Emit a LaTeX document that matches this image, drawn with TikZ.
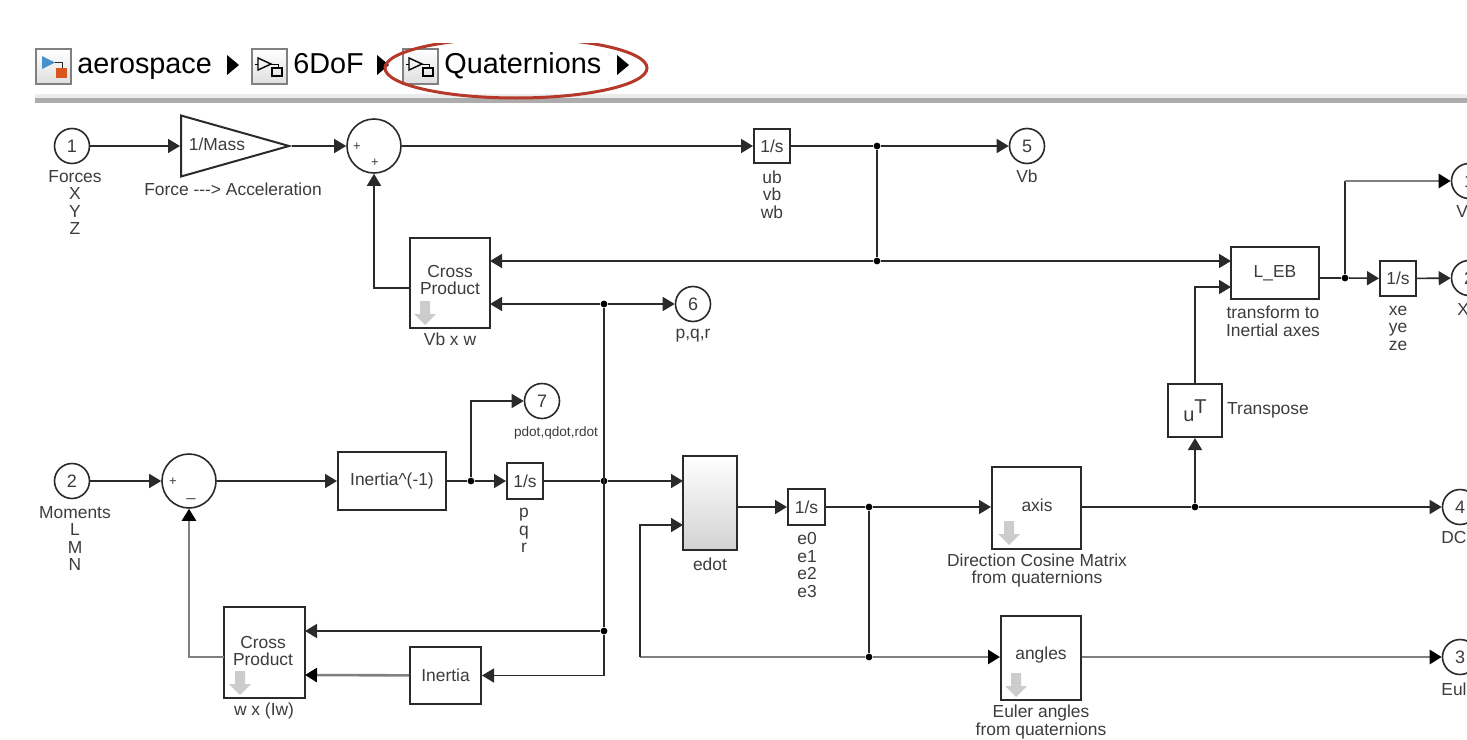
\documentclass[tikz,border=0pt]{standalone}
\usepackage{fontspec}
\setmainfont{Liberation Sans}
\usepackage{tikz}
\usetikzlibrary{arrows.meta,shapes.geometric,calc}
\definecolor{simdark}{HTML}{2A2A2A}
\definecolor{simtext}{HTML}{3C3C3C}
\definecolor{simred}{HTML}{B5392A}
\definecolor{simblue}{HTML}{4A90C8}
\definecolor{simorange}{HTML}{D9571E}
\tikzset{
  blk/.style={draw=simdark,line width=1pt,fill=white,inner sep=0pt,align=center,text=simtext,font=\fontsize{8.7}{8.2}\selectfont},
  port/.style={circle,draw=simdark,line width=.8pt,fill=white,inner sep=0pt,minimum size=17.5pt,text=simtext,font=\fontsize{9}{9}\selectfont},
  sumblk/.style={circle,draw=simdark,line width=.8pt,fill=white,inner sep=0pt,minimum size=27pt},
  junc/.style={circle,fill=black,inner sep=0pt,minimum size=3.4pt},
  lbl/.style={inner sep=0pt,align=center,text=simtext,font=\fontsize{8.7}{8.8}\selectfont},
  sgn/.style={inner sep=0pt,text=simtext,font=\fontsize{6.5}{6.5}\selectfont},
  crumb/.style={inner sep=0pt,anchor=base west,text=black,font=\fontsize{14.4}{14.4}\selectfont},
  btn/.style={draw=gray,line width=.7pt,top color=white,bottom color=gray!25},
  wire/.style={draw=simdark,line width=.8pt},
  ar/.style={wire,-{Triangle[length=6pt,width=7pt]}},
  thk/.style={draw=black!50,line width=1.3pt},
  arthk/.style={thk,-{Triangle[length=6pt,width=7pt,color=black]}},
}
\begin{document}
\begin{tikzpicture}[x=.5pt,y=-.5pt]
  \useasboundingbox (0,0) rectangle (1467,739);
  \clip (0,0) rectangle (1467,739);
  % breadcrumb bar
  \fill[gray!15] (35,94) rectangle (1467,98);
  \fill[gray!65] (35,98) rectangle (1467,103);
  \foreach \x in {36,252,403} {\fill[btn] (\x,49) rectangle (\x+35,84);}
  \fill[simblue] (42,56) -- (42,69) -- (55,62.5) -- cycle;
  \draw[simdark,line width=.5pt] (55,62.5) -- (62,62.5) -- (62,68);
  \fill[simorange] (56,68) rectangle (67,78);
  \foreach \x in {252,403} {
    \draw[black,line width=.7pt] (\x+6,58) -- (\x+6,70) -- (\x+19,64) -- cycle;
    \draw[black,line width=.5pt] (\x+3,64) -- (\x+6,64) (\x+19,64) -- (\x+26,64) -- (\x+26,68);
    \draw[black,line width=.7pt] (\x+20,68) rectangle (\x+30,76);
  }
  \foreach \x in {227,377,617} {\fill[black] (\x,55) -- (\x,75) -- (\x+12,65) -- cycle;}
  \node[crumb] (crumbA) at (77,73) {aerospace};
  \node[crumb] (crumbB) at (293,73) {6DoF};
  \node[crumb] (crumbC) at (444,73) {Quaternions};
  \begin{scope}
    \clip (0,43) rectangle (1467,739);
    \draw[simred,line width=1.5pt] (516,68) ellipse [x radius=131,y radius=30];
  \end{scope}
  % blocks
  \node[port] (portA) at (72,146) {1};
  \node[port] (portB) at (72,481) {2};
  \node[port] (portVb) at (1027,146) {5};
  \node[port] (portPqr) at (693,304) {6};
  \node[port] (portDot) at (542,401) {7};
  \node[port] (portV) at (1469,181) {1};
  \node[port] (portX) at (1469,278) {2};
  \node[port] (portDcm) at (1460,507) {4};
  \node[port] (portEul) at (1460,657) {3};
  \node[blk,isosceles triangle,isosceles triangle stretches,shape border rotate=0,minimum width=30.5pt,minimum height=54pt,anchor=lower side] (mass) at (180,146) {};
  \node[sumblk] (sumA) at (374,146) {};
  \node[sumblk] (sumB) at (189,481) {};
  \node[blk,minimum width=18pt,minimum height=17pt] (intA) at (772,146) {1/s};
  \node[blk,minimum width=18pt,minimum height=18pt] (intB) at (525,481) {1/s};
  \node[blk,minimum width=18.5pt,minimum height=18pt] (intC) at (806.5,507) {1/s};
  \node[blk,minimum width=18pt,minimum height=17.5pt] (intD) at (1398,278.5) {1/s};
  \node[blk,minimum width=40pt,minimum height=45pt] (crossA) at (450,283) {};
  \node[blk,minimum width=40.5pt,minimum height=45.5pt] (crossB) at (264.5,652.5) {};
  \node[blk,minimum width=54pt,minimum height=29pt] (invI) at (392,481) {Inertia\textasciicircum(-1)};
  \node[blk,minimum width=35.5pt,minimum height=28.5pt] (inertia) at (445.5,675.5) {Inertia};
  \node[blk,minimum width=27pt,minimum height=47pt,top color=white,bottom color=gray!35] (edot) at (710,503) {};
  \node[blk,minimum width=44.5pt,minimum height=41pt] (axis) at (1036.5,508) {};
  \node[blk,minimum width=40pt,minimum height=42pt] (angles) at (1041,658) {};
  \node[blk,minimum width=44pt,minimum height=26pt] (leb) at (1275,273) {L\_EB};
  \node[blk,minimum width=27pt,minimum height=26.5pt,font=\fontsize{10}{10}\selectfont] (trans) at (1195,410.5) {u\raisebox{4pt}{T}};
  \foreach \x/\y in {425/313,240/683,1009/533,1016/685} {
    \fill[gray!40] (\x-5,\y-12) -- (\x+5,\y-12) -- (\x+5,\y+1) -- (\x+11,\y+1) -- (\x,\y+12) -- (\x-11,\y+1) -- (\x-5,\y+1) -- cycle;
  }
  % signs on the sums
  \node[sgn] (sgnA) at (357,147) {+};
  \node[sgn] (sgnB) at (375,163) {+};
  \node[sgn] (sgnC) at (173,482) {+};
  \node[sgn,font=\fontsize{8}{8}\selectfont] (sgnD) at (191,498) {\_};
  % labels
  \node[lbl] (txtMass) at (217,144) {1/Mass};
  \node[lbl] (txtCrossA) at (450,280) {Cross\\Product};
  \node[lbl] (txtCrossB) at (263,651) {Cross\\Product};
  \node[lbl] (txtAxis) at (1037,505) {axis};
  \node[lbl] (txtAngles) at (1041,655) {angles};
  \node[lbl] (lblForces) at (75,202.5) {Forces\\X\\Y\\Z};
  \node[lbl] (lblMass) at (233,189) {Force -{}-{}-> Acceleration};
  \node[lbl] (lblInt) at (772,194.5) {ub\\vb\\wb};
  \node[lbl] (lblVb) at (1027,176) {Vb};
  \node[lbl] (lblCrossA) at (450,339) {Vb x w};
  \node[lbl] (lblPqr) at (693,336) {p,q,r};
  \node[lbl,font=\fontsize{6.8}{7}\selectfont] (lblDot) at (556,433) {pdot,qdot,rdot};
  \node[lbl] (lblMom) at (75,538.5) {Moments\\L\\M\\N};
  \node[lbl] (lblP) at (524,530.5) {p\\q\\r};
  \node[lbl] (lblCrossB) at (264,711) {w x (Iw)};
  \node[lbl] (lblEdot) at (710,564) {edot};
  \node[lbl] (lblE) at (807,565) {e0\\e1\\e2\\e3};
  \node[lbl] (lblAxis) at (1037,570.5) {Direction Cosine Matrix\\from quaternions};
  \node[lbl] (lblAngles) at (1041,722) {Euler angles\\from quaternions};
  \node[lbl] (lblTrans) at (1268,410) {Transpose};
  \node[lbl] (lblLeb) at (1273,321.5) {transform to\\Inertial axes};
  \node[lbl] (lblXe) at (1398,328) {xe\\ye\\ze};
  \node[lbl,anchor=west] (lblV) at (1456,212) {V};
  \node[lbl,anchor=west] (lblX) at (1457,310) {X};
  \node[lbl,anchor=west] (lblDcm) at (1441,538) {DC};
  \node[lbl,anchor=west] (lblEul) at (1441,689) {Eul};
  % junctions and free ends
  \node[junc] (jA) at (877,146) {};
  \node[junc] (jB) at (877,261) {};
  \node[junc] (jC) at (604,304) {};
  \node[junc] (jD) at (604,481) {};
  \node[junc] (jE) at (604,631) {};
  \node[junc] (jF) at (471,481) {};
  \node[junc] (jG) at (869,507) {};
  \node[junc] (jH) at (869,657) {};
  \node[junc] (jI) at (1195,507) {};
  \node[junc] (jJ) at (1345,278) {};
  \coordinate (crossAin) at (490,261);
  \coordinate (crossAfb) at (490,304);
  \coordinate (crossAout) at (410,288);
  \coordinate (crossBin) at (305,631);
  \coordinate (crossBfb) at (305,675);
  \coordinate (crossBout) at (224,657);
  \coordinate (lebA) at (1231,261);
  \coordinate (lebB) at (1231,287);
  \coordinate (lebOut) at (1319,278);
  \coordinate (edotA) at (683,481);
  \coordinate (edotB) at (683,525);
  \coordinate (edotOut) at (737,507);
  \coordinate (bendA) at (640,657);
  % connectors
  \draw[ar] (portA) -- (mass.lower side);
  \draw[ar] (mass.apex) -- (sumA);
  \draw[ar] (sumA) -- (intA);
  \draw[wire] (intA) -- (jA);
  \draw[ar] (jA) -- (portVb);
  \draw[wire] (jA) -- (jB);
  \draw[ar] (jB) -- (crossAin);
  \draw[ar] (jB) -- (lebA);
  \draw[ar] (crossAout) -| (sumA.south);
  \draw[ar] (jC) -- (crossAfb);
  \draw[ar] (jC) -- (portPqr);
  \draw[wire] (jC) -- (jE);
  \draw[ar] (jE) |- (inertia.east);
  \draw[ar] (jE) -- (crossBin);
  \draw[arthk] (inertia) -- (crossBfb);
  \draw[arthk] (crossBout) -| (sumB.south);
  \draw[ar] (portB) -- (sumB);
  \draw[ar] (sumB) -- (invI);
  \draw[wire] (invI) -- (jF);
  \draw[ar] (jF) -- (intB);
  \draw[ar] (jF) |- (portDot);
  \draw[wire] (intB) -- (jD);
  \draw[ar] (jD) -- (edotA);
  \draw[ar] (edotOut) -- (intC);
  \draw[wire] (intC) -- (jG);
  \draw[ar] (jG) -- (jG -| axis.west);
  \draw[wire] (jG) -- (jH);
  \draw[arthk] (jH) -- (jH -| angles.west);
  \draw[thk] (jH) -- (bendA);
  \draw[ar] (bendA) |- (edotB);
  \draw[wire] (jI -| axis.east) -- (jI);
  \draw[ar] (jI) -- (portDcm);
  \draw[ar] (jI) -- (trans.south);
  \draw[arthk] (jH -| angles.east) -- (portEul);
  \draw[ar] (trans.north) |- (lebB);
  \draw[wire] (lebOut) -- (jJ);
  \draw[ar] (jJ) -- (intD);
  \draw[ar] (intD) -- (portX);
  \draw[wire] (jJ) -- (jJ |- portV);
  \draw[arthk] (jJ |- portV) -- (portV);
\end{tikzpicture}
\end{document}
